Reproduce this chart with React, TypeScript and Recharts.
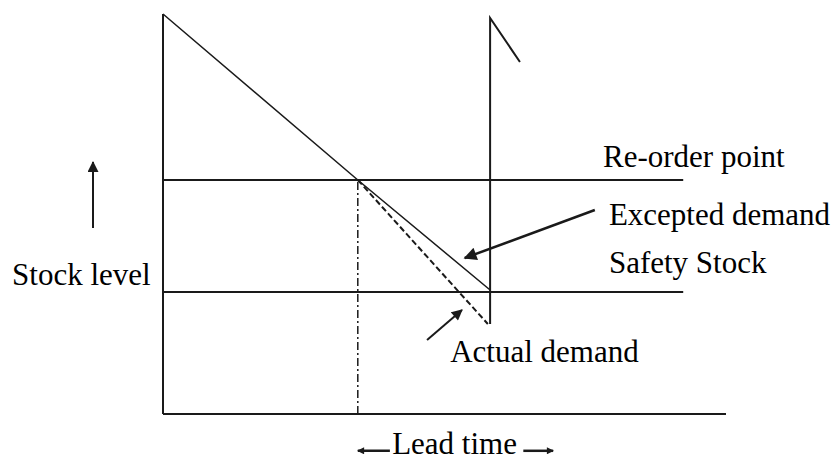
import { ComposedChart, Line, XAxis, YAxis, ReferenceLine, ReferenceDot } from "recharts";

// time runs 0..10 across the axis, stock 0..100 up the axis
const demandTime = [0, 3.46, 5.81];
const demandStock = [100, 58.5, 31];
const restockTime = [5.81, 5.81, 6.34];
const restockStock = [22.5, 99, 88];
const actualTime = [3.46, 5.77];
const actualStock = [58.5, 22.5];
const reorderLevel = 58.5;
const safetyLevel = 30.5;
const reorderTime = 3.46;
const levelLineEnd = 9.24;
const timeMax = 10;
const stockMax = 100;

const labelTexts = ["Re-order point", "Excepted demand", "Safety Stock", "Actual demand", "Stock level", "Lead time"];

const toPoints = (ts: number[], ss: number[]) => ts.map((t, i) => ({ t, s: ss[i] }));
const demand = toPoints(demandTime, demandStock);
const restock = toPoints(restockTime, restockStock);
const actual = toPoints(actualTime, actualStock);

const INK = "#1a1a1a";
const FONT = "'Liberation Serif', 'Times New Roman', serif";

// anchor (time, stock) where each text starts
const labelAnchors: [number, number][] = [
  [7.815, 61.75],
  [7.92, 47.25],
  [7.92, 35.25],
  [5.1, 13],
  [-2.68, 32.25],
  [4.07, -10.1],
];

const TextAt = (text: string) => (props: any) => {
  const vb = props.viewBox || {};
  return (
    <text x={vb.x} y={vb.y} fontFamily={FONT} fontSize={31} fill="#000" textAnchor="start">
      {text}
    </text>
  );
};

export default function App() {
  return (
    <div style={{ position: "fixed", left: 0, top: 0, background: "#fff" }}>
      <ComposedChart width={833} height={461} margin={{ top: 14, right: 107, bottom: 47, left: 163 }}>
        <defs>
          <marker id="headBig" viewBox="0 0 10 10" refX="9" refY="5" markerWidth="17" markerHeight="13" markerUnits="userSpaceOnUse" orient="auto">
            <path d="M0,0 L10,5 L0,10 z" fill={INK} />
          </marker>
          <marker id="headSmall" viewBox="0 0 10 10" refX="9" refY="5" markerWidth="13" markerHeight="11" markerUnits="userSpaceOnUse" orient="auto">
            <path d="M0,0 L10,5 L0,10 z" fill={INK} />
          </marker>
          <marker id="headTiny" viewBox="0 0 10 10" refX="9" refY="5" markerWidth="10" markerHeight="7" markerUnits="userSpaceOnUse" orient="auto">
            <path d="M0,0 L10,5 L0,10 z" fill={INK} />
          </marker>
        </defs>
        <XAxis type="number" dataKey="t" domain={[0, timeMax]} hide />
        <YAxis type="number" dataKey="s" domain={[0, stockMax]} hide />

        {/* axes */}
        <ReferenceLine segment={[{ x: 0, y: 0 }, { x: timeMax, y: 0 }]} stroke={INK} strokeWidth={2} ifOverflow="visible" />
        <ReferenceLine segment={[{ x: 0, y: 0 }, { x: 0, y: stockMax }]} stroke={INK} strokeWidth={2} ifOverflow="visible" />

        <ReferenceLine segment={[{ x: 0, y: reorderLevel }, { x: levelLineEnd, y: reorderLevel }]} stroke={INK} strokeWidth={2} />
        <ReferenceLine segment={[{ x: 0, y: safetyLevel }, { x: levelLineEnd, y: safetyLevel }]} stroke={INK} strokeWidth={2} />
        <ReferenceLine segment={[{ x: reorderTime, y: 0 }, { x: reorderTime, y: reorderLevel }]} stroke={INK} strokeWidth={1.5} strokeDasharray="8 3 2 3" />

        <Line data={demand} dataKey="s" type="linear" stroke={INK} strokeWidth={1.5} dot={false} isAnimationActive={false} />
        <Line data={restock} dataKey="s" type="linear" stroke={INK} strokeWidth={2} dot={false} isAnimationActive={false} />
        <Line data={actual} dataKey="s" type="linear" stroke={INK} strokeWidth={2} strokeDasharray="6 3" dot={false} isAnimationActive={false} />

        {/* pointer arrows */}
        <ReferenceLine segment={[{ x: 7.67, y: 51 }, { x: 5.36, y: 39 }]} stroke={INK} strokeWidth={2.5} markerEnd="url(#headBig)" ifOverflow="visible" />
        <ReferenceLine segment={[{ x: 4.69, y: 18.5 }, { x: 5.31, y: 26 }]} stroke={INK} strokeWidth={2} markerEnd="url(#headSmall)" ifOverflow="visible" />
        <ReferenceLine segment={[{ x: -1.243, y: 46.5 }, { x: -1.243, y: 63 }]} stroke={INK} strokeWidth={2} markerEnd="url(#headSmall)" ifOverflow="visible" />
        <ReferenceLine segment={[{ x: 4.03, y: -9.2 }, { x: 3.46, y: -9.2 }]} stroke={INK} strokeWidth={2.5} markerEnd="url(#headTiny)" ifOverflow="visible" />
        <ReferenceLine segment={[{ x: 6.4, y: -9.2 }, { x: 6.93, y: -9.2 }]} stroke={INK} strokeWidth={2.5} markerEnd="url(#headTiny)" ifOverflow="visible" />

        {labelTexts.map((txt, i) => (
          <ReferenceDot key={txt} x={labelAnchors[i][0]} y={labelAnchors[i][1]} r={0} stroke="none" fill="none" ifOverflow="visible" label={TextAt(txt)} />
        ))}
      </ComposedChart>
    </div>
  );
}
